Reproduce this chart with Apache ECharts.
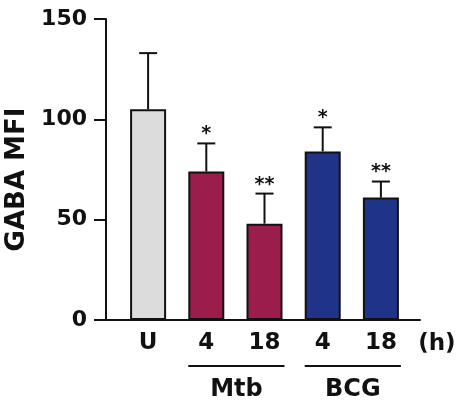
<!DOCTYPE html>
<html>
<head>
<meta charset="utf-8">
<script src="https://cdn.jsdelivr.net/npm/echarts@6/dist/echarts.min.js"></script>
<style>
  html, body { margin: 0; padding: 0; background: #fff; }
  #chart { width: 460px; height: 411px; }
</style>
</head>
<body>
<div id="chart"></div>
<script>
// data
var categories = ["U", "4", "18", "4", "18"];
var means = [105, 74, 48, 84, 61];
var errUp = [28, 14, 15, 12, 8];
var sig = ["", "*", "**", "*", "**"];
var barColors = ["#dcdcdc", "#9b1d4b", "#9b1d4b", "#1f3388", "#1f3388"];
var groups = [
  { name: "Mtb", from: 1, to: 2 },
  { name: "BCG", from: 3, to: 4 },
];
var yTicks = [0, 50, 100, 150];
var unitLabel = "(h)";

var font = "'DejaVu Sans', Arial, sans-serif";
var chart = echarts.init(document.getElementById("chart"));

chart.setOption({
  animation: false,
  grid: [
    // bars
    { left: 119, right: 50, top: 19, bottom: 91, containLabel: false, outerBoundsMode: "none" },
    // axes frame
    { left: 106, right: 40, top: 19, bottom: 91, containLabel: false, outerBoundsMode: "none" },
  ],
  xAxis: [
    {
      type: "category",
      gridIndex: 0,
      data: categories,
      axisLine: { show: false },
      axisTick: { show: false },
      axisLabel: {
        margin: 12,
        color: "#111",
        fontSize: 23,
        fontWeight: "bold",
        fontFamily: font,
      },
    },
    {
      type: "value",
      gridIndex: 1,
      min: 0,
      max: 1,
      axisLine: { show: true, onZero: false, lineStyle: { color: "#111", width: 2 } },
      axisTick: { show: false },
      axisLabel: { show: false },
      splitLine: { show: false },
    },
  ],
  yAxis: [
    {
      type: "value",
      gridIndex: 0,
      min: 0,
      max: 150,
      show: false,
    },
    {
      type: "value",
      gridIndex: 1,
      min: 0,
      max: 150,
      interval: 50,
      name: "GABA MFI",
      nameLocation: "middle",
      nameGap: 75,
      nameTextStyle: {
        color: "#111",
        fontSize: 26,
        fontWeight: "bold",
        fontFamily: font,
        padding: [0, 20, 0, 0],
      },
      axisLine: { show: true, lineStyle: { color: "#111", width: 2 } },
      axisTick: { show: true, length: 12, lineStyle: { color: "#111", width: 2 } },
      axisLabel: {
        margin: 19,
        color: "#111",
        fontSize: 22,
        fontWeight: "bold",
        fontFamily: font,
        formatter: function (v) {
          return yTicks.indexOf(v) >= 0 ? String(v) : "";
        },
      },
      splitLine: { show: false },
    },
  ],
  series: [
    {
      type: "bar",
      xAxisIndex: 0,
      yAxisIndex: 0,
      barWidth: 36,
      data: means.map(function (v, i) {
        return {
          value: v,
          itemStyle: { color: barColors[i], borderColor: "#111", borderWidth: 2 },
        };
      }),
      z: 2,
    },
    {
      type: "custom",
      xAxisIndex: 0,
      yAxisIndex: 0,
      data: means.map(function (v, i) {
        return [i, v, v + errUp[i]];
      }),
      renderItem: function (params, api) {
        var base = api.coord([api.value(0), api.value(1)]);
        var top = api.coord([api.value(0), api.value(2)]);
        var half = 9;
        var children = [
          {
            type: "line",
            shape: { x1: base[0], y1: base[1], x2: top[0], y2: top[1] },
            style: { stroke: "#111", lineWidth: 2 },
          },
          {
            type: "line",
            shape: { x1: top[0] - half, y1: top[1], x2: top[0] + half, y2: top[1] },
            style: { stroke: "#111", lineWidth: 2 },
          },
        ];
        var s = sig[params.dataIndex];
        if (s) {
          children.push({
            type: "text",
            x: top[0],
            y: top[1] - 9,
            style: {
              text: s,
              fill: "#111",
              font: "bold 19px " + font,
              textAlign: "center",
              textVerticalAlign: "middle",
            },
          });
        }
        return { type: "group", children: children };
      },
      z: 1,
    },
  ],
});

// group brackets, group names and the unit label, placed from the category scale
function px(i) {
  return chart.convertToPixel({ xAxisIndex: 0, yAxisIndex: 0 }, [i, 0]);
}
var graphics = [];
var half = 18;
groups.forEach(function (g) {
  var a = px(g.from);
  var b = px(g.to);
  var x1 = a[0] - half;
  var x2 = b[0] + half + 2;
  graphics.push({
    type: "line",
    shape: { x1: x1, y1: a[1] + 46, x2: x2, y2: a[1] + 46 },
    style: { stroke: "#111", lineWidth: 2 },
  });
  graphics.push({
    type: "text",
    x: (x1 + x2) / 2,
    y: a[1] + 70,
    style: {
      text: g.name,
      fill: "#111",
      font: "bold 24px " + font,
      textAlign: "center",
      textVerticalAlign: "middle",
    },
  });
});
var last = px(categories.length - 1);
graphics.push({
  type: "text",
  x: last[0] + 56,
  y: last[1] + 24,
  style: {
    text: unitLabel,
    fill: "#111",
    font: "bold 23px " + font,
    textAlign: "center",
    textVerticalAlign: "middle",
  },
});
chart.setOption({ graphic: graphics });
</script>
</body>
</html>
